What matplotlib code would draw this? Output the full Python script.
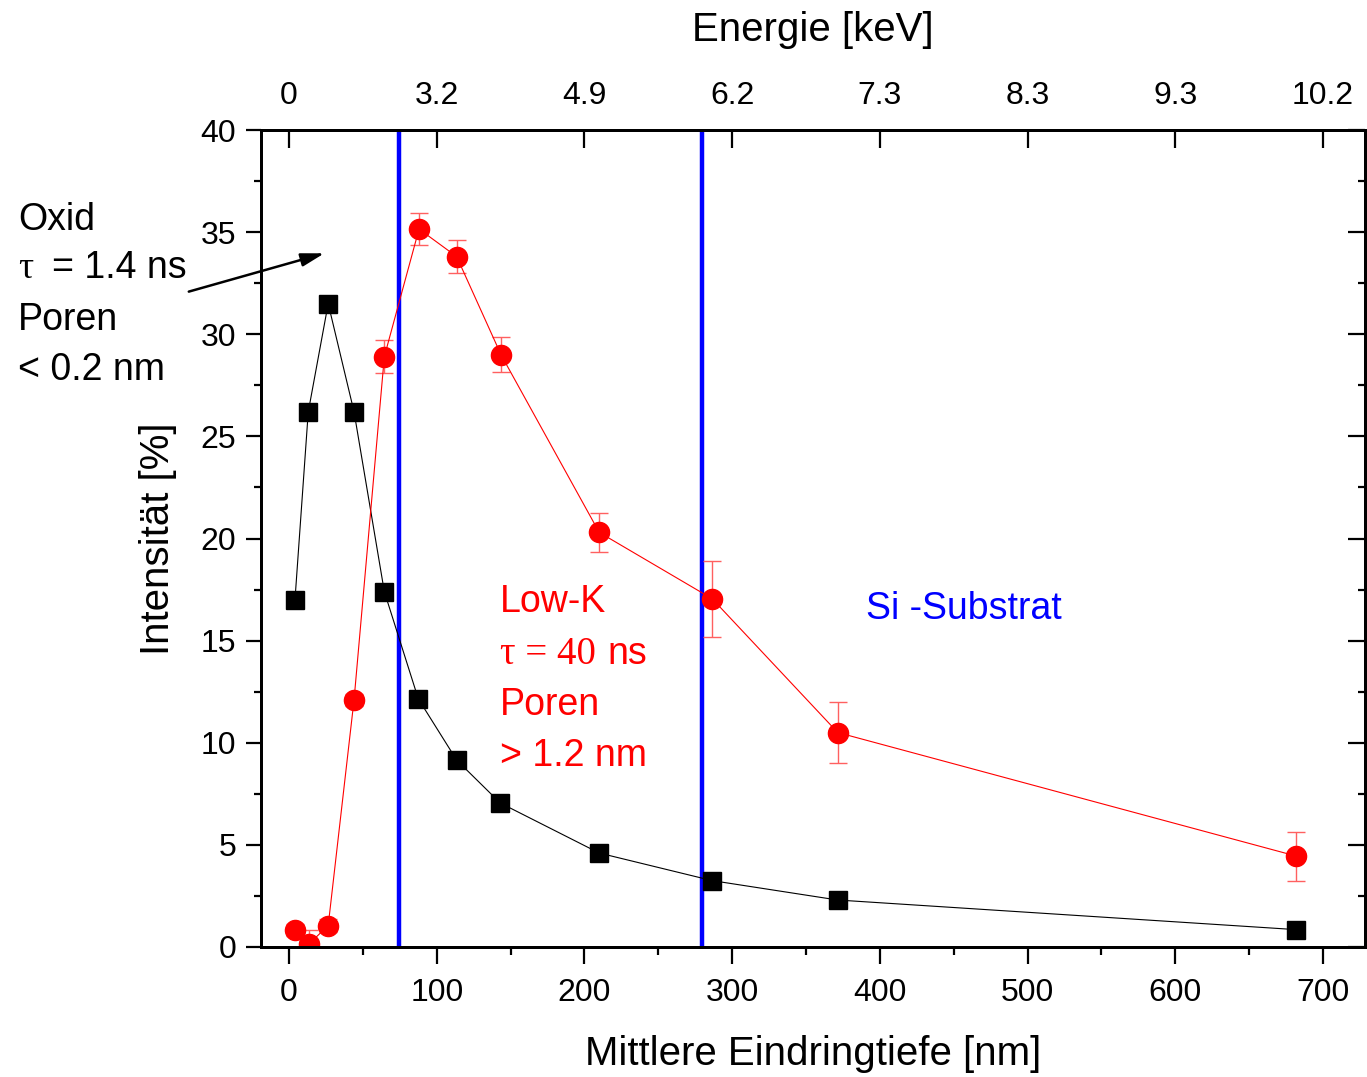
import numpy as np
import matplotlib.pyplot as plt
from matplotlib.ticker import MultipleLocator

plt.rcParams['font.family'] = ['Liberation Sans', 'DejaVu Sans']

# mean implantation depth [nm] and intensities [%]
depth_oxid = [4, 13, 26.5, 44, 64.5, 87.5, 113.5, 143, 210, 286.5, 371.5, 682]
int_oxid = [17.0, 26.2, 31.5, 26.2, 17.4, 12.15, 9.15, 7.05, 4.6, 3.25, 2.3, 0.85]

depth_lowk = [4, 13.5, 26.5, 44, 64.5, 88, 113.5, 143.5, 210, 286.5, 371.5, 682]
int_lowk = [0.85, 0.15, 1.05, 12.1, 28.9, 35.15, 33.8, 29.0, 20.3, 17.05, 10.5, 4.45]
err_lowk = [0.3, 0.7, 0.3, 0.3, 0.8, 0.8, 0.8, 0.85, 0.95, 1.85, 1.5, 1.2]

energy_ticks = [0, 100, 200, 300, 400, 500, 600, 700]
energy_labels = ['0', '3.2', '4.9', '6.2', '7.3', '8.3', '9.3', '10.2']

layer_bounds = [74.5, 279.5]

W, H = 1367, 1077
fig = plt.figure(figsize=(W / 100, H / 100), dpi=100)
ax = fig.add_axes([261 / W, 1 - 947 / H, (1365 - 261) / W, (947 - 130) / H])

ax.set_xlim(-19, 728.5)
ax.set_ylim(0, 40)

for xb in layer_bounds:
    ax.axvline(xb, color='#0000ff', lw=3.2, zorder=2.5)

ax.plot(depth_oxid, int_oxid, color='black', lw=0.8, marker='s', ms=13,
        mfc='black', mec='black', zorder=3)
ax.errorbar(depth_lowk, int_lowk, yerr=err_lowk, color='#ff0000', lw=0.8,
            marker='o', ms=14.5, mfc='#ff0000', mec='#ff0000',
            ecolor='#ff6060', elinewidth=1.0, capsize=6.5, capthick=1.0, zorder=3)

ax.xaxis.set_major_locator(MultipleLocator(100))
ax.xaxis.set_minor_locator(MultipleLocator(50))
ax.yaxis.set_major_locator(MultipleLocator(5))
ax.yaxis.set_minor_locator(MultipleLocator(2.5))
ax.tick_params(axis='both', which='both', direction='out', width=1.6, labelsize=23)
ax.tick_params(axis='x', which='major', length=12, pad=10)
ax.tick_params(axis='x', which='minor', length=6)
ax.tick_params(axis='y', which='major', length=11, pad=7)
ax.tick_params(axis='y', which='minor', length=5)
for s in ax.spines.values():
    s.set_linewidth(2)

ax.set_xlabel('Mittlere Eindringtiefe [nm]', fontsize=29, labelpad=20)
ax.set_ylabel('Intensität [%]', fontsize=29, labelpad=17)

# right side: inward ticks only
ax_r = ax.twinx()
ax_r.set_ylim(ax.get_ylim())
ax_r.yaxis.set_major_locator(MultipleLocator(5))
ax_r.yaxis.set_minor_locator(MultipleLocator(2.5))
ax_r.tick_params(axis='y', which='both', direction='in', width=1.6, labelright=False)
ax_r.tick_params(axis='y', which='major', length=12)
ax_r.tick_params(axis='y', which='minor', length=5)

# top: energy scale
ax_t = ax.twiny()
ax_t.set_xlim(ax.get_xlim())
ax_t.set_xticks(energy_ticks)
ax_t.set_xticklabels(energy_labels)
ax_t.tick_params(axis='x', which='major', direction='in', length=13, width=1.6,
                 labelsize=23, pad=13.5)
ax_t.set_xlabel('Energie [keV]', fontsize=29, labelpad=29)
for a in (ax_r, ax_t):
    for s in a.spines.values():
        s.set_linewidth(2)


def ftext(x, y, s, **kw):
    fig.text(x / W, 1 - y / H, s, va='baseline', ha='left', **kw)


# oxide annotation
ftext(18, 230, 'Oxid', fontsize=27)
ftext(18, 278, 'τ', fontsize=27, family='Liberation Serif')
ftext(52, 278, '= 1.4 ns', fontsize=27)
ftext(18, 330, 'Poren', fontsize=27)
ftext(18, 380, '< 0.2 nm', fontsize=27)
ax.annotate('', xy=(25.7, 34.0), xytext=(-69.7, 32.05), xycoords='data',
            annotation_clip=False,
            arrowprops=dict(arrowstyle='-|>,head_length=1.4,head_width=0.4',
                            color='black', lw=1.8))

# low-k annotation
red = '#ff0000'
ftext(500, 612, 'Low-K', fontsize=27, color=red)
ftext(500, 664, 'τ = 40', fontsize=28, color=red, family='Liberation Serif')
ftext(607, 664, 'ns', fontsize=27, color=red)
ftext(500, 715, 'Poren', fontsize=27, color=red)
ftext(500, 766, '> 1.2 nm', fontsize=27, color=red)

ftext(866, 619, 'Si -Substrat', fontsize=27, color='#0000ff')

fig.savefig('out.png', dpi=100)
